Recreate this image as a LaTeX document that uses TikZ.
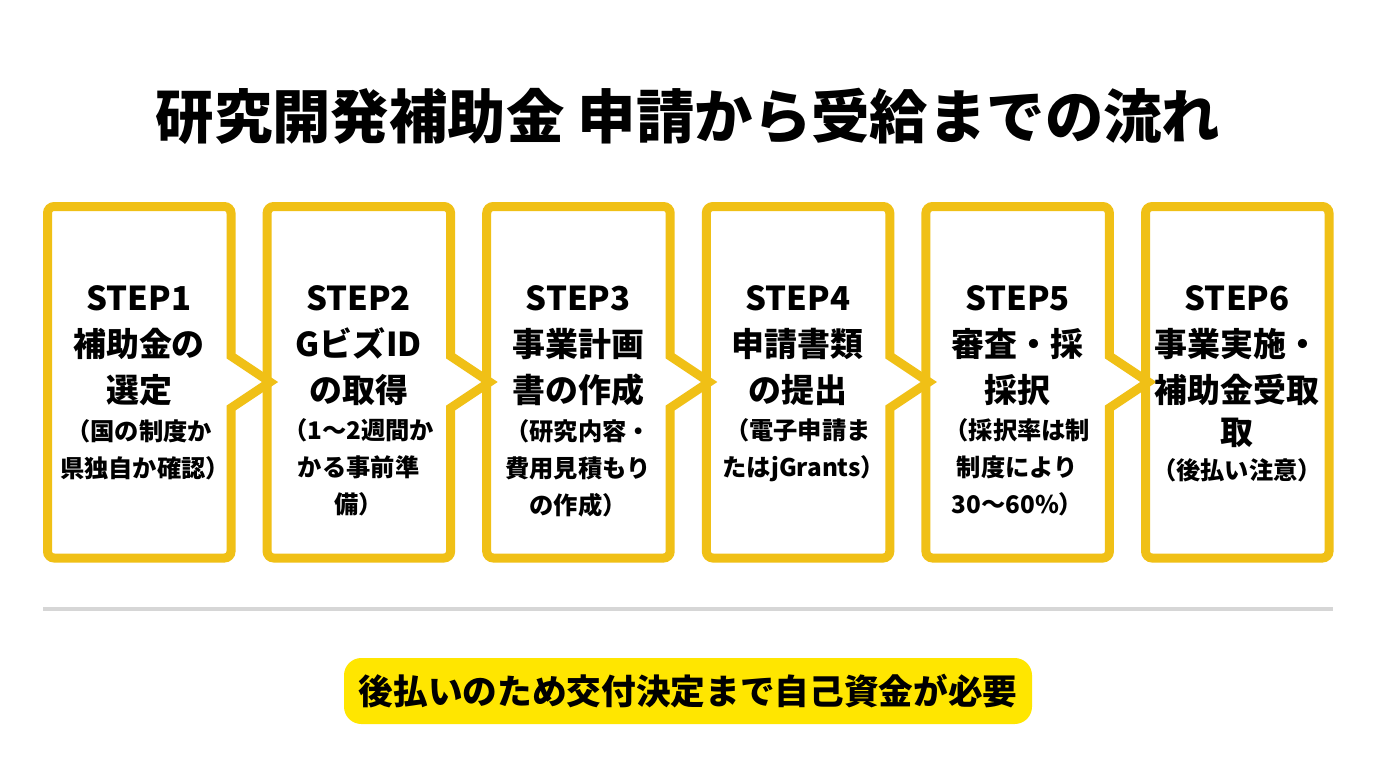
\documentclass[tikz,border=0pt]{standalone}
\usepackage{fontspec}
\setmainfont{Noto Sans CJK JP}
\usetikzlibrary{positioning}

\definecolor{stepborder}{RGB}{240,192,22}
\definecolor{notefill}{RGB}{255,230,0}
\definecolor{rulegray}{RGB}{214,214,214}

\tikzset{every picture/.style={line width=0.75pt},
  stepbox/.style={draw=stepborder,line width=6.75pt,fill=white,line join=miter,miter limit=10},
  stephead/.style={inner sep=0pt,align=center,anchor=north,font=\fontsize{24.7}{34.5}\selectfont\bfseries},
  stepnote/.style={inner sep=0pt,align=center,font=\fontsize{18.2}{27.7}\selectfont\bfseries},
}

\begin{document}
\begin{tikzpicture}[x=0.75pt,y=0.75pt,yscale=-1,xscale=1]
\path[use as bounding box,fill=white] (0,0) rectangle (1376,768);

% Title
\node[inner sep=0pt,font=\fontsize{43.8}{50}\selectfont\bfseries] (title) at (688,116) {研究開発補助金 申請から受給までの流れ};

% Step Boxes, last one first so each tip lies over the next box
\def\boxpitch{219.6}
\draw[stepbox,rounded corners=5pt] (1145.5,206.5) -- (1329,206.5) -- (1329,558) -- (1145.5,558) -- cycle;
\foreach \i in {5,4,3,2,1}{
  \pgfmathsetmacro{\xl}{47.5+\boxpitch*(\i-1)}
  \pgfmathsetmacro{\xr}{\xl+183.5}
  \pgfmathsetmacro{\xt}{\xr+39}
  \draw[stepbox,rounded corners=5pt] (\xl,206.5) -- (\xr,206.5) -- (\xr,300) [sharp corners] -- (\xr,356) -- (\xt,382) -- (\xr,408) -- (\xr,460) [rounded corners=5pt] -- (\xr,558) -- (\xl,558) -- cycle;
}

% Text Nodes
\foreach \i/\notegap/\headtext/\notetext in {
  1/9.25/{STEP1\\補助金の\\選定}/{（国の制度か\\県独自か確認）\kern-.5em},
  2/9.25/{STEP2\\Gビズ\kern.02em ID\\の取得}/{（1～2週間か\\かる事前準\hspace*{1em}\\備）},
  3/9.25/{STEP3\\事業計画\\書の作成}/{（研究内容・\\費用見積もり\\の作成）},
  4/9.25/{STEP4\\申請書類\\の提出}/{（電子申請ま\\たはjGrants）\kern-.5em},
  5/9.25/{STEP5\\審査・採\\採択}/{（採択率は制\\制度により\\30～60\%）},
  6/7.75/{STEP6\\事業実施・\\補助金受取\\[-3pt]取}/{（後払い注意）}}{
  \pgfmathsetmacro{\xc}{139+\boxpitch*(\i-1)}
  \node[stephead] (head\i) at (\xc,285) {\headtext};
  \node[stepnote,below=\notegap pt of head\i.south,anchor=north] (note\i) {\notetext};
}

% Rule
\coordinate (ruleleft) at (43,609);
\coordinate (ruleright) at (1333,609);
\draw[rulegray,line width=3pt] (ruleleft) -- (ruleright);

% Bottom Note
\fill[notefill,rounded corners=13pt] (344,658) rectangle (1032,724);
\node[inner sep=0pt,font=\fontsize{26}{30}\selectfont\bfseries] (paynote) at (688,691) {後払いのため交付決定まで自己資金が必要};

\end{tikzpicture}
\end{document}
